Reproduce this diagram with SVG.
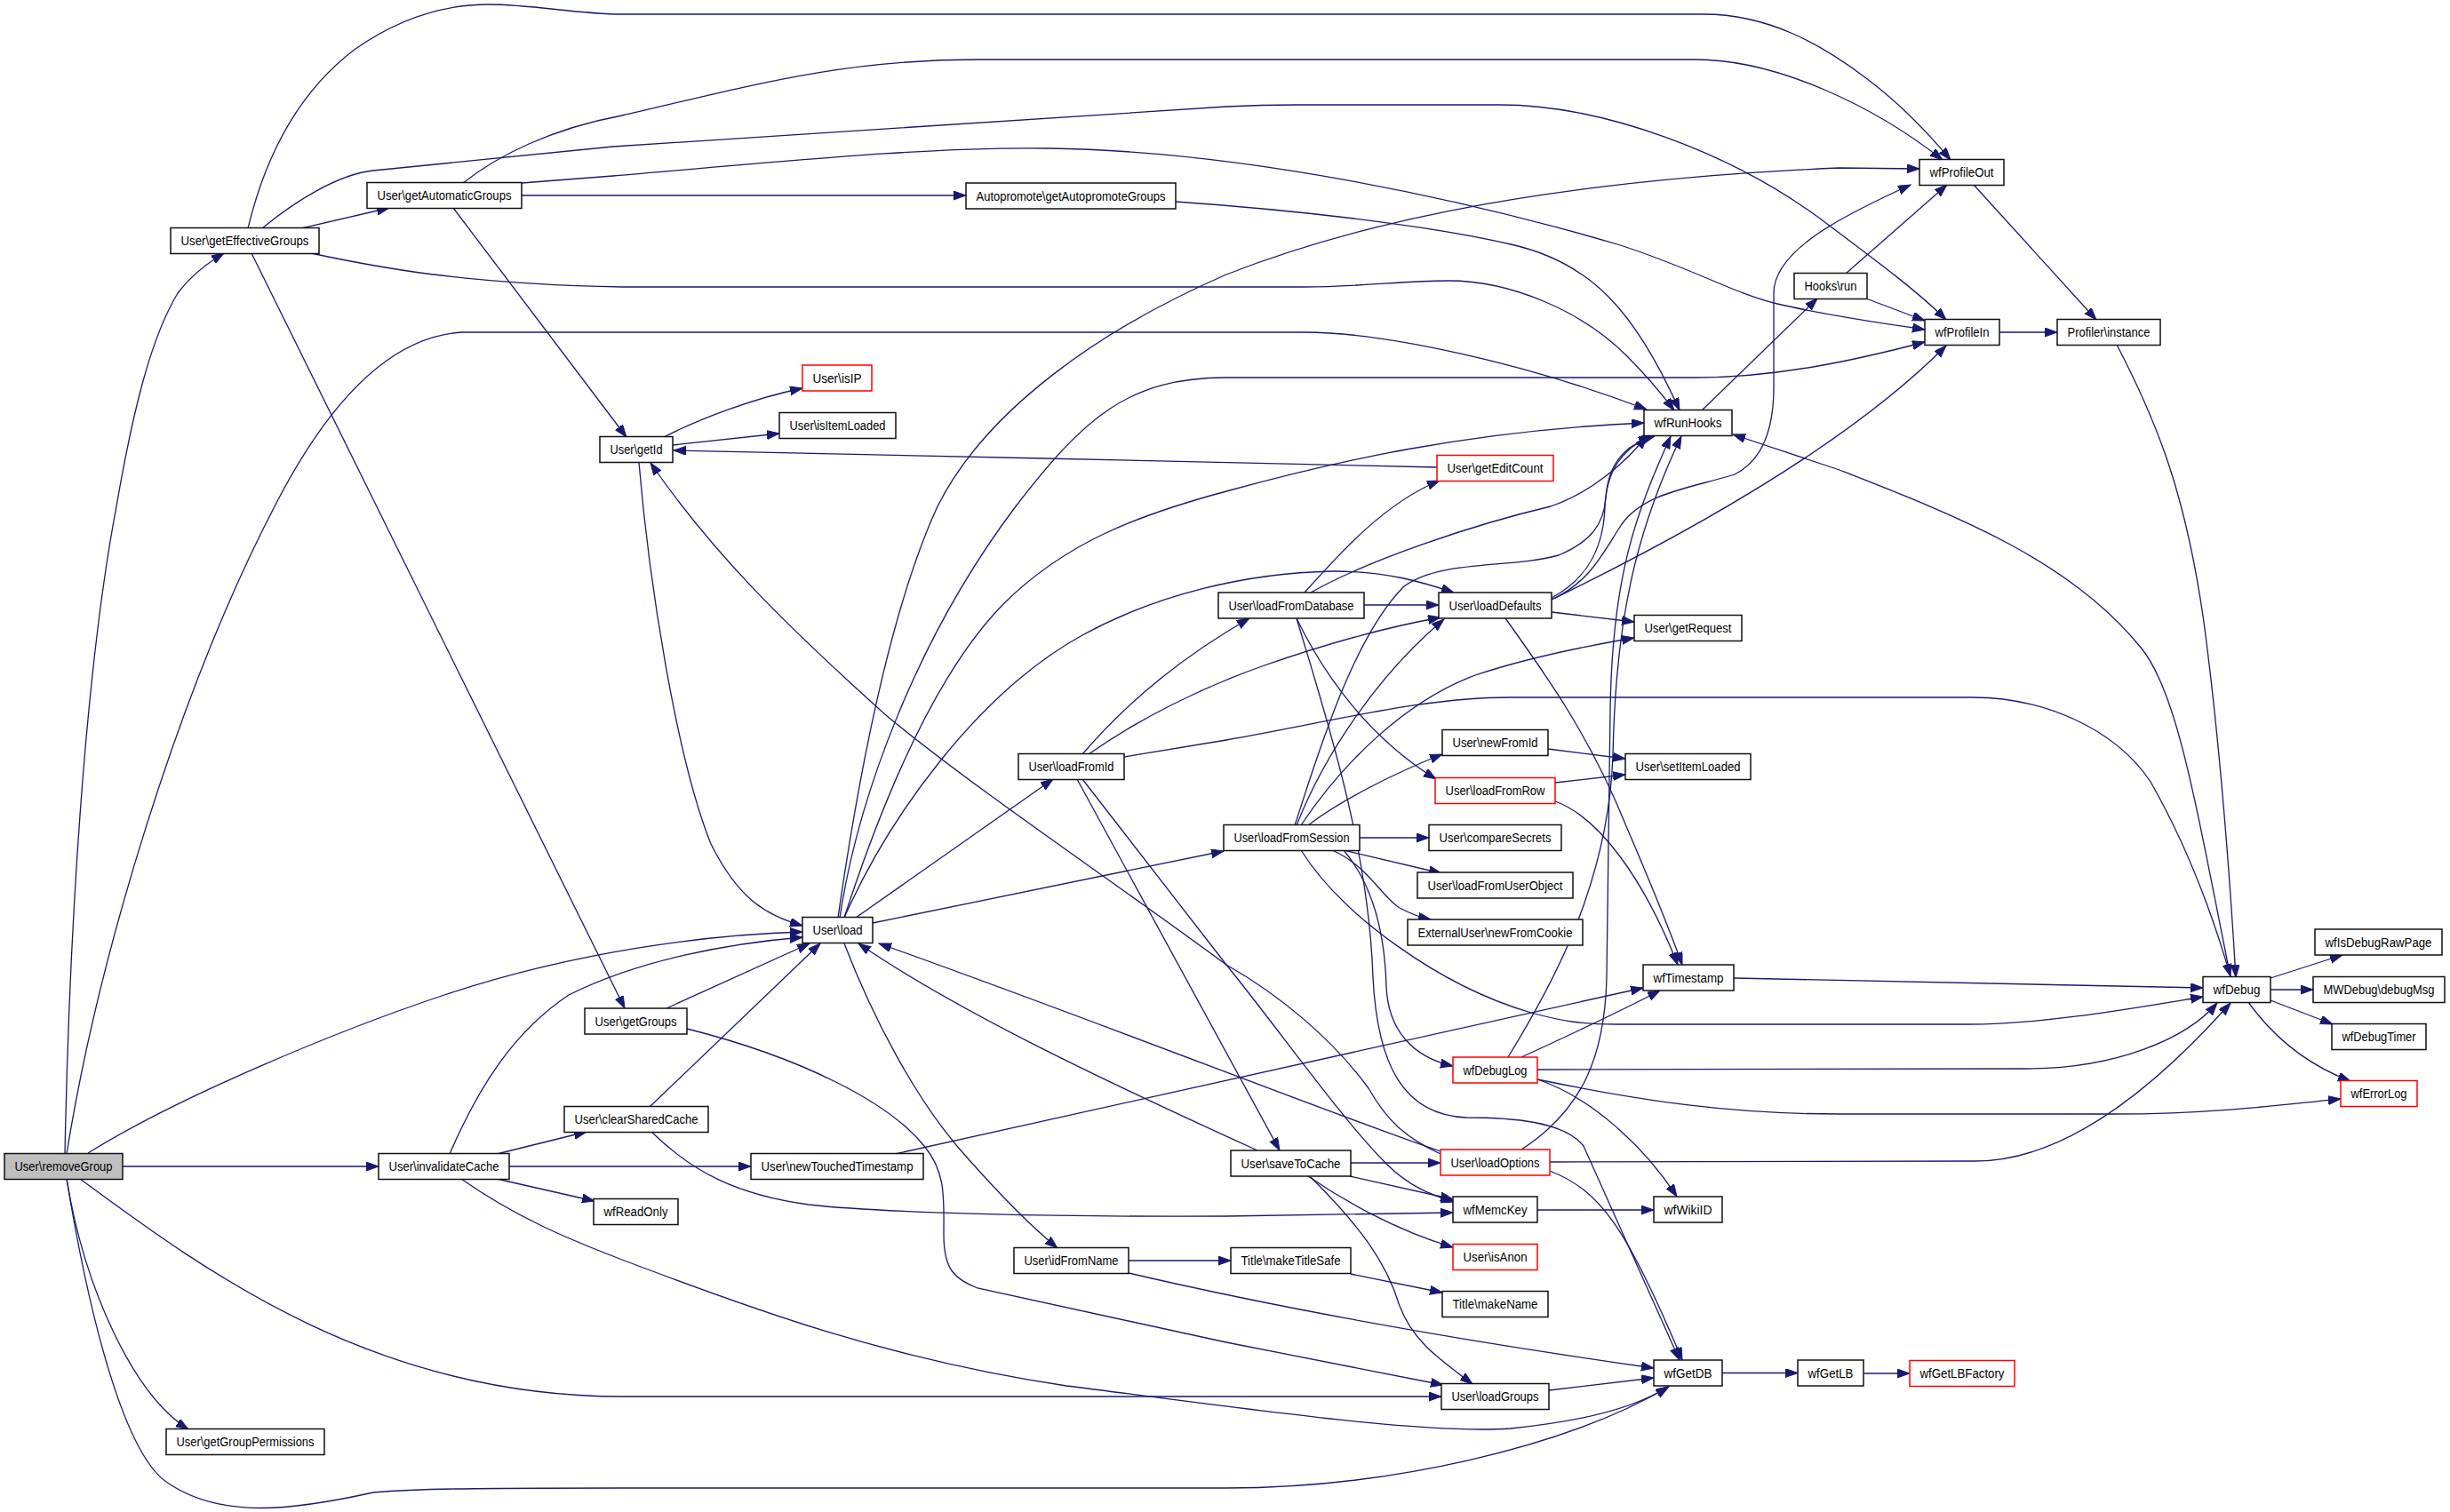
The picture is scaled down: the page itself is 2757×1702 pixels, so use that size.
<svg xmlns="http://www.w3.org/2000/svg" width="2757" height="1702" viewBox="0 0 2757 1702">
<style>
.n rect{fill:#fff;stroke:#111;stroke-width:1.5}
.r rect{stroke:#f00}
.g rect{fill:#bfbfbf}
text{font-family:"Liberation Sans",Arial,Helvetica,sans-serif;font-size:14px;text-anchor:middle;fill:#000}
#edges path{fill:none;stroke:#191970;stroke-width:1.3;marker-end:url(#a)}
</style>
<defs>
<marker id="a" markerUnits="userSpaceOnUse" markerWidth="16" markerHeight="12" refX="14" refY="5" orient="auto">
<path d="M0,0 L14,5 L0,10 z" fill="#191970" stroke="#191970" stroke-width="1"/>
</marker>
</defs>
<rect width="2757" height="1702" fill="#fff"/>
<g id="edges">
<path d="M73,1299 C78,1050 95,760 131,570 C150,460 170,380 200,330 C215,310 232,297 252,285"/>
<path d="M75,1299 C110,1080 200,780 309,570 C350,490 420,380 520,374 L1468,374 C1560,374 1720,410 1853,461"/>
<path d="M99,1298 C200,1235 380,1160 500,1120 C650,1070 800,1052 903,1049"/>
<path d="M138,1313 L426,1313"/>
<path d="M90,1327 C230,1430 420,1572 700,1572 L1622,1572"/>
<path d="M75,1327 C95,1450 150,1570 212,1609"/>
<path d="M75,1327 C100,1480 140,1640 190,1670 C250,1710 330,1700 420,1680 C470,1676 520,1675 700,1675 L1380,1675 C1560,1675 1760,1630 1878,1561"/>
<path d="M339,257 L438,234"/>
<path d="M279,257 C300,170 340,100 400,55 C450,20 500,5 550,5 C600,5 650,16 700,16 L1917,16 C1990,16 2050,50 2100,88 C2140,118 2170,150 2195,180"/>
<path d="M295,257 C330,228 380,196 420,192 L690,165 L1380,120 C1420,118 1440,118 1460,118 L1688,118 C1800,118 1950,170 2060,255 C2120,300 2160,330 2190,360"/>
<path d="M350,285 C420,300 520,320 700,323 L1468,323 C1530,323 1580,316 1630,316 C1700,316 1780,350 1830,400 C1860,430 1875,450 1884,462"/>
<path d="M283,285 L703,1135"/>
<path d="M587,220 L1087,220"/>
<path d="M521,206 C560,175 620,145 700,130 C850,95 950,67 1100,67 L1908,67 C2000,67 2110,120 2186,180"/>
<path d="M587,206 L690,198 C900,180 1050,165 1180,167 C1400,170 1650,225 1820,275 C1900,300 1950,330 2000,342 C2060,356 2120,364 2166,371"/>
<path d="M510,234 L705,492"/>
<path d="M1323,227 C1450,236 1600,252 1700,275 C1790,295 1840,350 1890,462"/>
<path d="M750,1135 L911,1062"/>
<path d="M773,1158 C900,1190 1000,1240 1040,1290 C1065,1320 1062,1350 1062,1390 C1062,1430 1075,1440 1100,1450 L1380,1511 L1624,1559"/>
<path d="M506,1299 C540,1220 580,1160 640,1120 C720,1080 820,1062 903,1055"/>
<path d="M559,1299 L660,1274"/>
<path d="M573,1313 L845,1313"/>
<path d="M559,1327 L669,1352"/>
<path d="M519,1327 C580,1370 640,1395 700,1418 C850,1475 1000,1530 1200,1560 C1400,1585 1600,1615 1700,1608 C1780,1600 1840,1585 1877,1561"/>
<path d="M731,1246 L923,1062"/>
<path d="M733,1274 C780,1320 830,1345 910,1356 C1000,1366 1200,1370 1380,1369 L1635,1365"/>
<path d="M1007,1299 L1849,1112"/>
<path d="M747,492 C790,470 850,448 903,437"/>
<path d="M757,501 L877,488"/>
<path d="M1617,526 C1400,521 1000,512 758,507"/>
<path d="M719,521 C730,650 760,850 800,950 C830,1010 860,1030 903,1042"/>
<path d="M1621,1299 C1580,1280 1560,1260 1540,1225 C1500,1170 1440,1120 1380,1086 C1250,990 1100,890 998,806 C880,700 800,620 732,521"/>
<path d="M943,1033 C965,880 1000,690 1055,570 C1110,460 1240,370 1380,309 C1500,262 1700,205 2070,189 L2160,190"/>
<path d="M945,1033 C965,900 1030,720 1143,570 C1220,470 1270,425 1380,425 L1908,425 C2000,425 2090,405 2166,385"/>
<path d="M950,1033 C1000,920 1100,780 1218,715 C1300,670 1400,645 1500,643 C1560,643 1600,655 1636,667"/>
<path d="M950,1033 C990,910 1050,760 1130,679 C1200,610 1280,580 1380,553 C1500,520 1650,485 1850,476"/>
<path d="M963,1033 L1185,877"/>
<path d="M982,1039 L1377,958"/>
<path d="M950,1062 C980,1140 1030,1240 1090,1305 C1130,1350 1160,1380 1190,1405"/>
<path d="M1218,849 C1260,800 1320,745 1406,696"/>
<path d="M1225,849 C1280,810 1350,775 1420,750 C1500,722 1560,706 1621,695"/>
<path d="M1265,852 L1380,833 C1500,812 1600,785 1700,785 L2219,785 C2300,785 2380,820 2420,880 C2460,950 2490,1030 2510,1099"/>
<path d="M1212,877 L1440,1295"/>
<path d="M1218,877 L1380,1086 C1440,1160 1510,1260 1560,1310 C1585,1335 1610,1345 1636,1353"/>
<path d="M1468,667 C1510,620 1560,565 1620,541"/>
<path d="M1475,667 C1540,630 1660,590 1745,570 C1790,555 1830,520 1853,491"/>
<path d="M1535,681 L1619,681"/>
<path d="M1459,696 C1490,760 1540,830 1616,877"/>
<path d="M1459,696 C1490,800 1540,950 1545,1100 C1550,1200 1580,1255 1650,1258 C1700,1258 1760,1262 1782,1290 L1890,1531"/>
<path d="M1746,673 C1790,650 1805,610 1806,570 C1808,530 1825,505 1858,491"/>
<path d="M1746,675 C1790,655 1805,620 1825,590 C1850,555 1900,550 1952,534 C1990,515 1996,470 1996,436 L1996,330 C1996,280 2080,240 2150,208"/>
<path d="M1746,675 C1900,600 2080,500 2190,389"/>
<path d="M1746,689 L1839,700"/>
<path d="M1694,696 C1740,760 1790,830 1830,930 C1860,1000 1880,1050 1893,1086"/>
<path d="M1459,929 C1490,850 1550,760 1625,697"/>
<path d="M1457,929 C1480,860 1520,720 1580,660 C1620,630 1700,640 1754,625 C1790,610 1805,590 1807,560 C1810,520 1830,500 1862,491"/>
<path d="M1464,929 C1510,860 1580,790 1660,760 C1720,740 1780,728 1839,718"/>
<path d="M1472,929 C1510,900 1570,870 1623,849"/>
<path d="M1530,943 L1608,943"/>
<path d="M1512,957 L1622,983"/>
<path d="M1499,957 C1540,975 1555,1010 1575,1022 C1590,1030 1600,1033 1610,1035"/>
<path d="M1512,957 C1540,990 1558,1040 1560,1110 C1562,1160 1590,1190 1635,1200"/>
<path d="M1464,957 C1510,1030 1620,1110 1723,1140 C1760,1150 1780,1153 1820,1153 L2215,1153 C2300,1153 2400,1135 2479,1122"/>
<path d="M1750,881 L1829,872"/>
<path d="M1750,902 C1800,920 1850,990 1888,1086"/>
<path d="M1742,843 L1829,854"/>
<path d="M1951,1101 L2479,1112"/>
<path d="M1697,1190 C1740,1120 1810,1000 1815,850 C1818,700 1840,600 1892,491"/>
<path d="M1712,1190 C1760,1168 1820,1140 1868,1115"/>
<path d="M1730,1204 L2280,1203 C2380,1203 2460,1170 2495,1129"/>
<path d="M1730,1215 C1850,1240 1950,1254 2070,1254 L2377,1254 C2480,1254 2560,1245 2634,1237"/>
<path d="M1730,1215 C1790,1235 1850,1290 1887,1347"/>
<path d="M1621,1296 C1500,1255 1250,1155 989,1062"/>
<path d="M1744,1308 L2223,1307 C2320,1307 2420,1230 2510,1129"/>
<path d="M1744,1318 C1800,1340 1830,1380 1893,1531"/>
<path d="M1712,1294 C1780,1250 1806,1190 1808,1100 L1812,800 C1814,650 1840,580 1880,491"/>
<path d="M1415,1295 C1250,1220 1080,1140 966,1062"/>
<path d="M1520,1309 L1621,1309"/>
<path d="M1519,1324 L1635,1350"/>
<path d="M1472,1324 C1510,1350 1570,1385 1635,1404"/>
<path d="M1475,1325 C1530,1380 1560,1420 1575,1470 C1590,1510 1620,1530 1657,1558"/>
<path d="M1270,1419 L1385,1419"/>
<path d="M1270,1433 C1450,1475 1650,1510 1861,1540"/>
<path d="M1520,1434 L1623,1455"/>
<path d="M1743,1565 L1861,1551"/>
<path d="M1938,1545.5 L2023,1545.5"/>
<path d="M2097,1546 L2149,1546"/>
<path d="M1730,1362 L1861,1362"/>
<path d="M1915,462 L2045,336"/>
<path d="M2077,308 L2191,208"/>
<path d="M2100,336 L2166,361"/>
<path d="M2250,374 L2315,374"/>
<path d="M2221,208 L2359,360"/>
<path d="M2382,388 C2430,480 2460,560 2480,700 C2500,850 2510,1000 2516,1100"/>
<path d="M2510,1100 C2470,900 2450,780 2410,730 C2330,630 2200,580 2070,529 L1950,489"/>
<path d="M2555,1101 L2636,1075"/>
<path d="M2555,1114 L2603,1114"/>
<path d="M2555,1126 L2625,1153"/>
<path d="M2530,1128 C2560,1170 2600,1200 2645,1217"/>
</g>
<g id="removeGroup" class="n g"><rect x="5" y="1298.5" width="133" height="29"/><text x="71.5" y="1318" textLength="110" lengthAdjust="spacingAndGlyphs">User\removeGroup</text></g>
<g id="getEffectiveGroups" class="n"><rect x="192" y="256.5" width="167" height="29"/><text x="275.5" y="276" textLength="144" lengthAdjust="spacingAndGlyphs">User\getEffectiveGroups</text></g>
<g id="getAutomaticGroups" class="n"><rect x="413" y="205.5" width="174" height="29"/><text x="500" y="225" textLength="151" lengthAdjust="spacingAndGlyphs">User\getAutomaticGroups</text></g>
<g id="getGroupPermissions" class="n"><rect x="187" y="1608.5" width="178" height="29"/><text x="276" y="1628" textLength="155" lengthAdjust="spacingAndGlyphs">User\getGroupPermissions</text></g>
<g id="invalidateCache" class="n"><rect x="426" y="1298.5" width="147" height="29"/><text x="499.5" y="1318" textLength="124" lengthAdjust="spacingAndGlyphs">User\invalidateCache</text></g>
<g id="getId" class="n"><rect x="675" y="491.5" width="82" height="29"/><text x="716" y="511" textLength="59" lengthAdjust="spacingAndGlyphs">User\getId</text></g>
<g id="getGroups" class="n"><rect x="658" y="1135" width="115" height="29"/><text x="715.5" y="1154.5" textLength="92" lengthAdjust="spacingAndGlyphs">User\getGroups</text></g>
<g id="clearSharedCache" class="n"><rect x="635" y="1245.5" width="162" height="29"/><text x="716" y="1265" textLength="139" lengthAdjust="spacingAndGlyphs">User\clearSharedCache</text></g>
<g id="wfReadOnly" class="n"><rect x="668" y="1349.5" width="95" height="29"/><text x="715.5" y="1369" textLength="72" lengthAdjust="spacingAndGlyphs">wfReadOnly</text></g>
<g id="isIP" class="n r"><rect x="903" y="411" width="78" height="29"/><text x="942" y="430.5" textLength="55" lengthAdjust="spacingAndGlyphs">User\isIP</text></g>
<g id="isItemLoaded" class="n"><rect x="877" y="464.5" width="131" height="29"/><text x="942.5" y="484" textLength="108" lengthAdjust="spacingAndGlyphs">User\isItemLoaded</text></g>
<g id="load" class="n"><rect x="903" y="1032.5" width="79" height="29"/><text x="942.5" y="1052" textLength="56" lengthAdjust="spacingAndGlyphs">User\load</text></g>
<g id="newTouchedTimestamp" class="n"><rect x="845" y="1298.5" width="194" height="29"/><text x="942" y="1318" textLength="171" lengthAdjust="spacingAndGlyphs">User\newTouchedTimestamp</text></g>
<g id="getAutopromoteGroups" class="n"><rect x="1087" y="206" width="236" height="29"/><text x="1205" y="225.5" textLength="213" lengthAdjust="spacingAndGlyphs">Autopromote\getAutopromoteGroups</text></g>
<g id="loadFromId" class="n"><rect x="1146" y="848.5" width="119" height="29"/><text x="1205.5" y="868" textLength="96" lengthAdjust="spacingAndGlyphs">User\loadFromId</text></g>
<g id="idFromName" class="n"><rect x="1141" y="1404.5" width="129" height="29"/><text x="1205.5" y="1424" textLength="106" lengthAdjust="spacingAndGlyphs">User\idFromName</text></g>
<g id="loadFromDatabase" class="n"><rect x="1371" y="667" width="164" height="29"/><text x="1453" y="686.5" textLength="141" lengthAdjust="spacingAndGlyphs">User\loadFromDatabase</text></g>
<g id="loadFromSession" class="n"><rect x="1377" y="928.5" width="153" height="29"/><text x="1453.5" y="948" textLength="130" lengthAdjust="spacingAndGlyphs">User\loadFromSession</text></g>
<g id="saveToCache" class="n"><rect x="1385" y="1295" width="135" height="29"/><text x="1452.5" y="1314.5" textLength="112" lengthAdjust="spacingAndGlyphs">User\saveToCache</text></g>
<g id="makeTitleSafe" class="n"><rect x="1385" y="1404.5" width="135" height="29"/><text x="1452.5" y="1424" textLength="112" lengthAdjust="spacingAndGlyphs">Title\makeTitleSafe</text></g>
<g id="getEditCount" class="n r"><rect x="1617" y="512.5" width="131" height="29"/><text x="1682.5" y="532" textLength="108" lengthAdjust="spacingAndGlyphs">User\getEditCount</text></g>
<g id="loadDefaults" class="n"><rect x="1619" y="667" width="127" height="29"/><text x="1682.5" y="686.5" textLength="104" lengthAdjust="spacingAndGlyphs">User\loadDefaults</text></g>
<g id="newFromId" class="n"><rect x="1623" y="821.5" width="119" height="29"/><text x="1682.5" y="841" textLength="96" lengthAdjust="spacingAndGlyphs">User\newFromId</text></g>
<g id="loadFromRow" class="n r"><rect x="1615" y="875.5" width="135" height="29"/><text x="1682.5" y="895" textLength="112" lengthAdjust="spacingAndGlyphs">User\loadFromRow</text></g>
<g id="compareSecrets" class="n"><rect x="1608" y="928.5" width="149" height="29"/><text x="1682.5" y="948" textLength="126" lengthAdjust="spacingAndGlyphs">User\compareSecrets</text></g>
<g id="loadFromUserObject" class="n"><rect x="1595" y="982" width="175" height="29"/><text x="1682.5" y="1001.5" textLength="152" lengthAdjust="spacingAndGlyphs">User\loadFromUserObject</text></g>
<g id="newFromCookie" class="n"><rect x="1584" y="1035" width="197" height="29"/><text x="1682.5" y="1054.5" textLength="174" lengthAdjust="spacingAndGlyphs">ExternalUser\newFromCookie</text></g>
<g id="wfDebugLog" class="n r"><rect x="1635" y="1190" width="95" height="29"/><text x="1682.5" y="1209.5" textLength="72" lengthAdjust="spacingAndGlyphs">wfDebugLog</text></g>
<g id="loadOptions" class="n r"><rect x="1621" y="1294" width="123" height="29"/><text x="1682.5" y="1313.5" textLength="100" lengthAdjust="spacingAndGlyphs">User\loadOptions</text></g>
<g id="wfMemcKey" class="n"><rect x="1635" y="1347" width="95" height="29"/><text x="1682.5" y="1366.5" textLength="72" lengthAdjust="spacingAndGlyphs">wfMemcKey</text></g>
<g id="isAnon" class="n r"><rect x="1635" y="1400.5" width="95" height="29"/><text x="1682.5" y="1420" textLength="72" lengthAdjust="spacingAndGlyphs">User\isAnon</text></g>
<g id="makeName" class="n"><rect x="1623" y="1453.5" width="119" height="29"/><text x="1682.5" y="1473" textLength="96" lengthAdjust="spacingAndGlyphs">Title\makeName</text></g>
<g id="loadGroups" class="n"><rect x="1622" y="1557.5" width="121" height="29"/><text x="1682.5" y="1577" textLength="98" lengthAdjust="spacingAndGlyphs">User\loadGroups</text></g>
<g id="wfRunHooks" class="n"><rect x="1850" y="461.5" width="99" height="29"/><text x="1899.5" y="481" textLength="76" lengthAdjust="spacingAndGlyphs">wfRunHooks</text></g>
<g id="getRequest" class="n"><rect x="1839" y="692.5" width="121" height="29"/><text x="1899.5" y="712" textLength="98" lengthAdjust="spacingAndGlyphs">User\getRequest</text></g>
<g id="setItemLoaded" class="n"><rect x="1829" y="848.5" width="141" height="29"/><text x="1899.5" y="868" textLength="118" lengthAdjust="spacingAndGlyphs">User\setItemLoaded</text></g>
<g id="wfTimestamp" class="n"><rect x="1849" y="1086" width="102" height="29"/><text x="1900" y="1105.5" textLength="79" lengthAdjust="spacingAndGlyphs">wfTimestamp</text></g>
<g id="wfWikiID" class="n"><rect x="1861" y="1347" width="77" height="29"/><text x="1899.5" y="1366.5" textLength="54" lengthAdjust="spacingAndGlyphs">wfWikiID</text></g>
<g id="wfGetDB" class="n"><rect x="1861" y="1531" width="77" height="29"/><text x="1899.5" y="1550.5" textLength="54" lengthAdjust="spacingAndGlyphs">wfGetDB</text></g>
<g id="HooksRun" class="n"><rect x="2019" y="307.5" width="82" height="29"/><text x="2060" y="327" textLength="59" lengthAdjust="spacingAndGlyphs">Hooks\run</text></g>
<g id="wfGetLB" class="n"><rect x="2023" y="1531" width="74" height="29"/><text x="2060" y="1550.5" textLength="51" lengthAdjust="spacingAndGlyphs">wfGetLB</text></g>
<g id="wfProfileOut" class="n"><rect x="2160" y="179.5" width="95" height="29"/><text x="2207.5" y="199" textLength="72" lengthAdjust="spacingAndGlyphs">wfProfileOut</text></g>
<g id="wfProfileIn" class="n"><rect x="2166" y="359.5" width="84" height="29"/><text x="2208" y="379" textLength="61" lengthAdjust="spacingAndGlyphs">wfProfileIn</text></g>
<g id="wfGetLBFactory" class="n r"><rect x="2149" y="1531.5" width="118" height="29"/><text x="2208" y="1551" textLength="95" lengthAdjust="spacingAndGlyphs">wfGetLBFactory</text></g>
<g id="ProfilerInstance" class="n"><rect x="2315" y="359.5" width="116" height="29"/><text x="2373" y="379" textLength="93" lengthAdjust="spacingAndGlyphs">Profiler\instance</text></g>
<g id="wfDebug" class="n"><rect x="2479" y="1099.5" width="76" height="29"/><text x="2517" y="1119" textLength="53" lengthAdjust="spacingAndGlyphs">wfDebug</text></g>
<g id="wfIsDebugRawPage" class="n"><rect x="2605" y="1046" width="143" height="29"/><text x="2676.5" y="1065.5" textLength="120" lengthAdjust="spacingAndGlyphs">wfIsDebugRawPage</text></g>
<g id="debugMsg" class="n"><rect x="2603" y="1099.5" width="148" height="29"/><text x="2677" y="1119" textLength="125" lengthAdjust="spacingAndGlyphs">MWDebug\debugMsg</text></g>
<g id="wfDebugTimer" class="n"><rect x="2624" y="1152.5" width="106" height="29"/><text x="2677" y="1172" textLength="83" lengthAdjust="spacingAndGlyphs">wfDebugTimer</text></g>
<g id="wfErrorLog" class="n r"><rect x="2634" y="1216.5" width="86" height="29"/><text x="2677" y="1236" textLength="63" lengthAdjust="spacingAndGlyphs">wfErrorLog</text></g>
</svg>
